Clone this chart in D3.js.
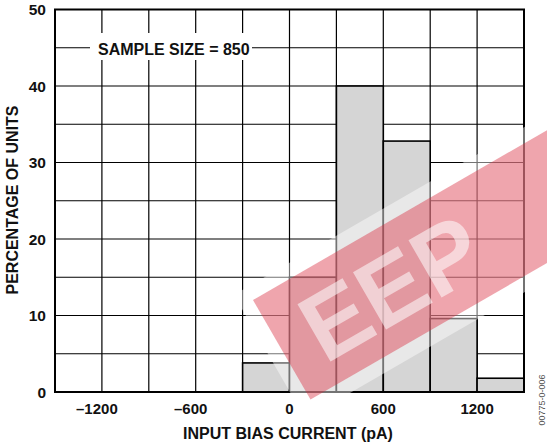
<!DOCTYPE html>
<html>
<head>
<meta charset="utf-8">
<script src="https://cdn.jsdelivr.net/npm/d3@7"></script>
<style>
  html, body { margin: 0; padding: 0; background: #fff; }
  text { font-family: "Liberation Sans", Arial, sans-serif; font-weight: bold; fill: #111; }
</style>
</head>
<body>
<svg id="chart" width="547" height="445"></svg>
<script>
// histogram bins (pA) and percentage of units
const binStarts = [-300, 0, 300, 600, 900, 1200];
const binWidth = 300;
const percents = [3.8, 15.0, 40.0, 32.8, 9.6, 1.8];

const xTicks = [-1200, -600, 0, 600, 1200];
const yTicks = [0, 10, 20, 30, 40, 50];
const xGrid = d3.range(-1500, 1501, 300);
const yGrid = d3.range(0, 51, 5);

const W = 547, H = 445;
const m = { top: 9.5, right: 23, bottom: 53, left: 55 };

const svg = d3.select('#chart');

const x = d3.scaleLinear().domain([-1500, 1500]).range([m.left, W - m.right]);
const y = d3.scaleLinear().domain([0, 50]).range([H - m.bottom, m.top]);

// grid
const grid = svg.append('g');
grid.selectAll('line.v').data(xGrid).enter().append('line')
  .attr('x1', d => x(d)).attr('x2', d => x(d))
  .attr('y1', y(0)).attr('y2', y(50))
  .attr('stroke', '#000').attr('stroke-width', 1.2);
grid.selectAll('line.h').data(yGrid).enter().append('line')
  .attr('x1', x(-1500)).attr('x2', x(1500))
  .attr('y1', d => y(d)).attr('y2', d => y(d))
  .attr('stroke', '#000').attr('stroke-width', 1.2);

// bars
const bins = binStarts.map((s, i) => ({ start: s, pct: percents[i] }));
svg.append('g').selectAll('rect').data(bins).enter().append('rect')
  .attr('x', d => x(d.start))
  .attr('y', d => y(d.pct))
  .attr('width', d => x(d.start + binWidth) - x(d.start))
  .attr('height', d => y(0) - y(d.pct))
  .attr('fill', '#d5d5d5')
  .attr('stroke', '#000').attr('stroke-width', 1.6);

// sample size label on white box
svg.append('rect').attr('x', 90).attr('y', 33).attr('width', 162).attr('height', 27).attr('fill', '#fff');
svg.append('text').attr('x', 98).attr('y', 55)
  .style('font-size', '16px').text('SAMPLE SIZE = 850');

// frame
svg.append('rect')
  .attr('x', x(-1500)).attr('y', y(50))
  .attr('width', x(1500) - x(-1500)).attr('height', y(0) - y(50))
  .attr('fill', 'none').attr('stroke', '#000').attr('stroke-width', 2);

// tick labels
svg.append('g').selectAll('text').data(xTicks).enter().append('text')
  .attr('x', d => x(d) - (d < 0 ? 5 : 0)).attr('y', 414)
  .attr('text-anchor', 'middle')
  .style('font-size', '15px')
  .text(d => d < 0 ? '\u2013' + Math.abs(d) : d);

svg.append('g').selectAll('text').data(yTicks).enter().append('text')
  .attr('x', 46).attr('y', d => y(d) + 5.5)
  .attr('text-anchor', 'end')
  .style('font-size', '15.5px')
  .text(d => d);

// axis titles
svg.append('text').attr('x', 288).attr('y', 439)
  .attr('text-anchor', 'middle').style('font-size', '16px')
  .text('INPUT BIAS CURRENT (pA)');

svg.append('text')
  .attr('transform', 'translate(18,200) rotate(-90)')
  .attr('text-anchor', 'middle').style('font-size', '16px')
  .text('PERCENTAGE OF UNITS');

// figure id
svg.append('text')
  .attr('transform', 'translate(545,400) rotate(-90)')
  .attr('text-anchor', 'middle')
  .style('font-size', '9px').style('font-weight', 'normal').style('fill', '#555')
  .text('00775-0-006');

// watermark
const wm = svg.append('g').attr('transform', 'translate(253,300) rotate(-30)');
wm.append('rect').attr('x', -14).attr('y', -14).attr('width', 420).attr('height', 143)
  .attr('fill', '#fff').attr('opacity', 0.45);
wm.append('rect').attr('x', 0).attr('y', 0).attr('width', 400).attr('height', 115)
  .attr('fill', '#d8283c').attr('opacity', 0.42);
wm.append('text').attr('x', 30).attr('y', 92)
  .style('font-size', '96px').style('fill', '#fff').attr('opacity', 0.55)
  .text('EEP');
</script>
</body>
</html>
